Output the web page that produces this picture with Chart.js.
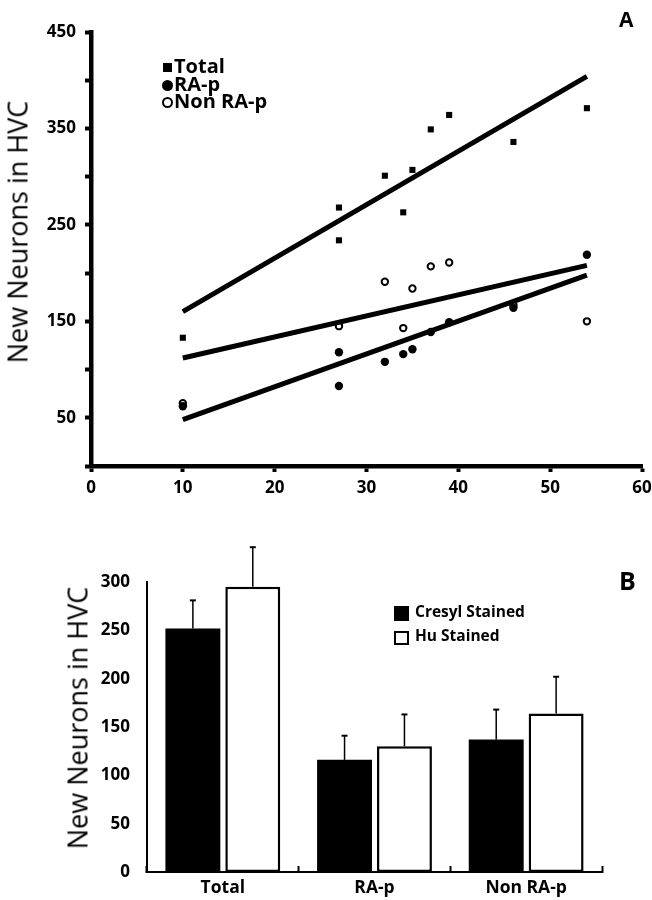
<!DOCTYPE html>
<html>
<head>
<meta charset="utf-8">
<script src="https://cdn.jsdelivr.net/npm/chart.js@4/dist/chart.umd.min.js"></script>
<style>
  html, body { margin: 0; padding: 0; background: #fff; }
  #wrap { position: relative; width: 652px; height: 900px; overflow: hidden; background: #fff; }
  canvas { position: absolute; left: 0; }
  .t { position: absolute; white-space: nowrap; color: #000; font-family: 'Open Sans', sans-serif; }
  .ytitle { font-size: 27px; line-height: 27px; font-weight: 400; transform: translate(-50%, -50%) rotate(-90deg); }
  .lg { font-weight: 700; font-size: 20px; line-height: 20px; }
  .lgb { font-weight: 700; font-size: 15.5px; line-height: 15.5px; }
  .mk { position: absolute; box-sizing: border-box; }
</style>
</head>
<body>
<div id="wrap">
  <canvas id="chartA" width="652" height="500" style="top:0"></canvas>
  <canvas id="chartB" width="652" height="380" style="top:520px"></canvas>

  <div class="t ytitle" style="left:16.5px; top:232px;">New Neurons in HVC</div>
  <div class="t ytitle" style="left:77px; top:718px;">New Neurons in HVC</div>

  <div class="t" style="left:619px; top:9px; font-weight:700; font-size:21px; line-height:21px;">A</div>
  <div class="t" style="left:619px; top:568px; font-weight:700; font-size:25px; line-height:25px;">B</div>

  <!-- legend A -->
  <div class="mk" style="left:163px; top:63px; width:9px; height:9px; background:#000;"></div>
  <div class="t lg" style="left:174px; top:56px;">Total</div>
  <div class="mk" style="left:162px; top:80px; width:11px; height:11px; background:#000; border-radius:50%;"></div>
  <div class="t lg" style="left:174px; top:73.5px;">RA-p</div>
  <div class="mk" style="left:162px; top:97px; width:11px; height:11px; border:2.5px solid #000; border-radius:50%;"></div>
  <div class="t lg" style="left:174px; top:91px;">Non RA-p</div>

  <!-- legend B -->
  <div class="mk" style="left:394px; top:606px; width:15px; height:15px; background:#000;"></div>
  <div class="t lgb" style="left:415px; top:604px;">Cresyl Stained</div>
  <div class="mk" style="left:394px; top:631px; width:15px; height:14px; border:2px solid #000; background:#fff;"></div>
  <div class="t lgb" style="left:415px; top:628px;">Hu Stained</div>
</div>

<script>
// ---------- Panel A data ----------
const ages      = [10, 27, 27, 32, 34, 35, 37, 39, 46, 54];
const totalVals = [133, 268, 234, 301, 263, 307, 349, 364, 336, 371];
const raPVals   = [62, 118, 83, 108, 116, 121, 139, 149, 164, 219];
const nonRaPVals= [65, 146, 145, 191, 143, 184, 207, 211, 167, 150];

const fitX      = [10, 54];
const totalFit  = [160, 404];
const raPFit    = [48, 198];
const nonRaPFit = [112, 208];

const xTicksA = [0, 10, 20, 30, 40, 50, 60];
const yLabelsA = [50, 150, 250, 350, 450];

// ---------- Panel B data ----------
const groups      = ['Total', 'RA-p', 'Non RA-p'];
const cresylVals  = [252, 116, 137];
const cresylErr   = [29, 25, 31];
const huVals      = [295, 130, 164];
const huErr       = [41, 33, 38];
const yTicksB     = [0, 50, 100, 150, 200, 250, 300];

const pts = (xs, ys) => xs.map((x, i) => ({ x: x, y: ys[i] }));
const tickFont = { family: 'Open Sans', weight: 'bold', size: 17 };

new Chart(document.getElementById('chartA'), {
  type: 'scatter',
  data: {
    datasets: [
      { label: 'Total fit', type: 'line', data: pts(fitX, totalFit), borderColor: '#000', borderWidth: 5, pointRadius: 0, fill: false, showLine: true, borderCapStyle: 'butt' },
      { label: 'RA-p fit', type: 'line', data: pts(fitX, raPFit), borderColor: '#000', borderWidth: 5, pointRadius: 0, fill: false, showLine: true, borderCapStyle: 'butt' },
      { label: 'Non RA-p fit', type: 'line', data: pts(fitX, nonRaPFit), borderColor: '#000', borderWidth: 5, pointRadius: 0, fill: false, showLine: true, borderCapStyle: 'butt' },
      { label: 'Total', data: pts(ages, totalVals), pointStyle: 'rect', pointRadius: 4.3, backgroundColor: '#000', borderColor: '#000', borderWidth: 0 },
      { label: 'RA-p', data: pts(ages, raPVals), pointStyle: 'circle', pointRadius: 4.2, backgroundColor: '#000', borderColor: '#000', borderWidth: 0 },
      { label: 'Non RA-p', data: pts(ages, nonRaPVals), pointStyle: 'circle', pointRadius: 3.2, backgroundColor: '#fff', borderColor: '#000', borderWidth: 2 }
    ]
  },
  options: {
    responsive: false,
    animation: false,
    devicePixelRatio: 1,
    layout: { padding: { left: 0, top: 32, right: 10, bottom: 0 } },
    plugins: { legend: { display: false }, tooltip: { enabled: false } },
    scales: {
      x: {
        type: 'linear', min: 0, max: 60,
        afterBuildTicks: s => { s.ticks = xTicksA.map(v => ({ value: v })); },
        ticks: { font: tickFont, color: '#000', padding: 6, maxRotation: 0, autoSkip: false },
        grid: { display: true, drawOnChartArea: false, drawTicks: true, tickLength: 6, tickWidth: 4, tickColor: '#000' },
        border: { display: true, width: 4.5, color: '#000' },
        afterFit: s => { s.height = 34; s.paddingRight = 0; s.paddingLeft = 0; }
      },
      y: {
        type: 'linear', min: 0, max: 450,
        ticks: { stepSize: 50, font: tickFont, color: '#000', padding: 9, autoSkip: false,
                 callback: v => (yLabelsA.includes(v) ? String(v) : '') },
        grid: { display: true, drawOnChartArea: false, drawTicks: true, tickLength: 6, tickWidth: 4, tickColor: '#000' },
        border: { display: true, width: 4.5, color: '#000' },
        afterFit: s => { s.width = 91; s.paddingTop = 0; s.paddingBottom = 0; }
      }
    }
  }
});

const errorBars = {
  id: 'errorBars',
  afterDatasetsDraw(chart) {
    const ctx = chart.ctx;
    const yScale = chart.scales.y;
    const errs = [cresylErr, huErr];
    chart.data.datasets.forEach((ds, di) => {
      const meta = chart.getDatasetMeta(di);
      meta.data.forEach((el, i) => {
        const top = yScale.getPixelForValue(ds.data[i] + errs[di][i]);
        ctx.save();
        ctx.strokeStyle = '#000';
        ctx.lineWidth = 1.5;
        ctx.beginPath();
        ctx.moveTo(el.x, el.y);
        ctx.lineTo(el.x, top);
        ctx.stroke();
        ctx.lineWidth = 2;
        ctx.beginPath();
        ctx.moveTo(el.x - 3, top);
        ctx.lineTo(el.x + 3, top);
        ctx.stroke();
        ctx.restore();
      });
    });
  }
};

new Chart(document.getElementById('chartB'), {
  type: 'bar',
  data: {
    labels: groups,
    datasets: [
      { label: 'Cresyl Stained', data: cresylVals, backgroundColor: '#000', borderColor: '#000', borderWidth: 0,
        categoryPercentage: 0.79, barPercentage: 0.917 },
      { label: 'Hu Stained', data: huVals, backgroundColor: '#fff', borderColor: '#000', borderWidth: 2.5, borderSkipped: false,
        categoryPercentage: 0.79, barPercentage: 0.917 }
    ]
  },
  options: {
    responsive: false,
    animation: false,
    devicePixelRatio: 1,
    layout: { padding: { left: 0, top: 62, right: 50, bottom: 0 } },
    plugins: { legend: { display: false }, tooltip: { enabled: false } },
    scales: {
      x: {
        type: 'category', offset: true,
        ticks: { font: { family: 'Open Sans', weight: 'bold', size: 17.5 }, color: '#000', padding: 12, maxRotation: 0, autoSkip: false },
        grid: { display: true, offset: true, drawOnChartArea: false, drawTicks: true, tickLength: -6, tickWidth: 2, tickColor: '#000' },
        border: { display: true, width: 2, color: '#000' },
        afterFit: s => { s.height = 28; s.paddingRight = 0; s.paddingLeft = 0; }
      },
      y: {
        type: 'linear', min: 0, max: 300,
        afterBuildTicks: s => { s.ticks = yTicksB.map(v => ({ value: v })); },
        ticks: { font: tickFont, color: '#000', padding: 9, autoSkip: false },
        grid: { display: false },
        border: { display: true, width: 2, color: '#000' },
        afterFit: s => { s.width = 147; }
      }
    }
  },
  plugins: [errorBars]
});
</script>
</body>
</html>
